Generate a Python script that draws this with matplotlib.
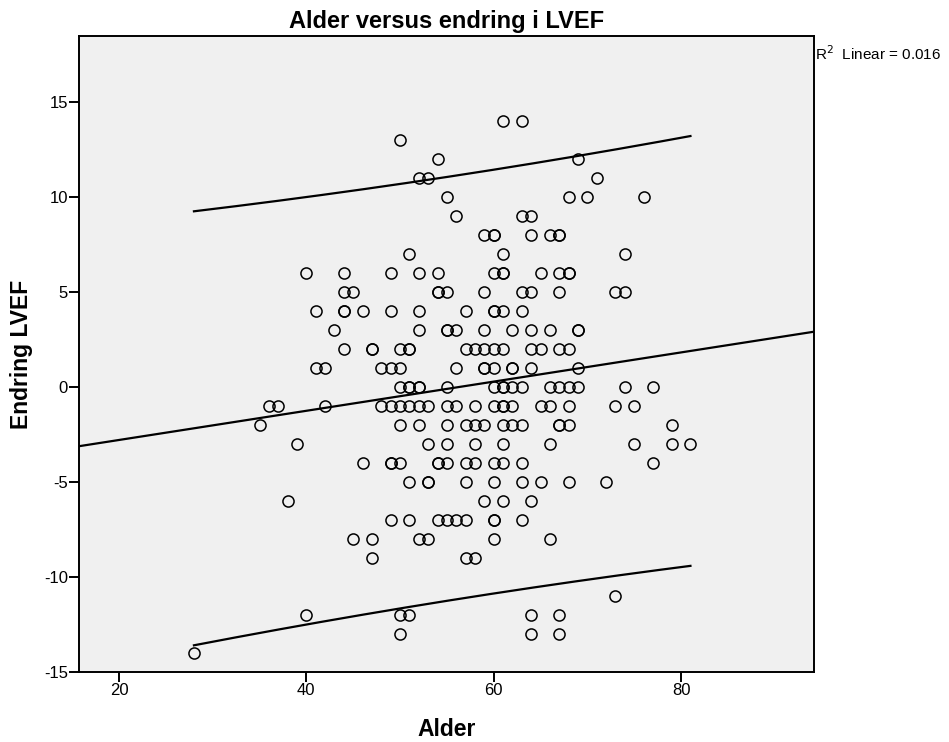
import numpy as np
import matplotlib
matplotlib.use('Agg')
import matplotlib.pyplot as plt

plt.rcParams['font.family'] = ['Liberation Sans', 'DejaVu Sans']
plt.rcParams['axes.unicode_minus'] = False

# Alder (x) for hver endring i LVEF (y), lest av per rad (tykke sirkler = to like punkt)
rows = {
    14: [61, 63],
    13: [50],
    12: [54, 69],
    11: [52, 53, 71],
    10: [55, 68, 70, 76],
    9: [56, 63, 64],
    8: [59, 60, 60, 64, 66, 67, 67],
    7: [51, 61, 74],
    6: [40, 44, 49, 52, 54, 60, 61, 61, 65, 67, 68, 68],
    5: [44, 45, 54, 54, 55, 59, 63, 64, 67, 73, 74],
    4: [41, 44, 44, 46, 49, 52, 57, 60, 60, 61, 63],
    3: [43, 52, 55, 55, 56, 59, 62, 64, 66, 69, 69],
    2: [44, 47, 47, 50, 51, 51, 57, 58, 59, 60, 61, 64, 65, 67, 68],
    1: [41, 42, 48, 49, 50, 56, 59, 59, 60, 62, 62, 64, 69],
    0: [50, 51, 51, 52, 52, 55, 60, 61, 61, 62, 63, 66, 67, 68, 69, 74, 77],
    -1: [36, 37, 42, 48, 49, 50, 51, 52, 53, 55, 56, 58, 60, 61, 61, 62, 65, 66, 68, 73, 75],
    -2: [35, 50, 52, 55, 57, 58, 59, 61, 62, 63, 67, 67, 68, 79],
    -3: [39, 53, 55, 58, 61, 66, 75, 79, 81],
    -4: [46, 49, 49, 50, 54, 54, 55, 57, 58, 60, 61, 63, 77],
    -5: [51, 53, 53, 57, 60, 63, 65, 68, 72],
    -6: [38, 59, 61, 64],
    -7: [49, 51, 54, 55, 56, 57, 60, 60, 63],
    -8: [45, 47, 52, 53, 60, 66],
    -9: [47, 57, 58],
    -11: [73],
    -12: [40, 50, 51, 64, 67],
    -13: [50, 64, 67],
    -14: [28],
}
alder = np.array([a for y, xs in rows.items() for a in xs], dtype=float)
endring = np.array([y for y, xs in rows.items() for a in xs], dtype=float)

# lineær regresjon + 95% prediksjonsintervall
n = len(alder)
b, a = np.polyfit(alder, endring, 1)
pred = a + b * alder
s = np.sqrt(np.sum((endring - pred) ** 2) / (n - 2))
r2 = 1 - np.sum((endring - pred) ** 2) / np.sum((endring - endring.mean()) ** 2)
xbar = alder.mean()
sxx = np.sum((alder - xbar) ** 2)
t = 1.97

fig = plt.figure(figsize=(9.49, 7.42), dpi=100)
ax = fig.add_axes([79 / 949, 1 - 672 / 742, (814 - 79) / 949, (672 - 36) / 742])
ax.set_facecolor('#f0f0f0')

ax.set_xlim(15.73, 94.19)
ax.set_ylim(-15, 18.5)

xl = np.linspace(15.73, 94.19, 100)
ax.plot(xl, a + b * xl, color='black', lw=1.6)
xp = np.linspace(alder.min(), alder.max(), 200)
half = t * s * np.sqrt(1 + 1 / n + (xp - xbar) ** 2 / sxx)
ax.plot(xp, a + b * xp + half, color='black', lw=1.6)
ax.plot(xp, a + b * xp - half, color='black', lw=1.6)

ax.plot(alder, endring, 'o', mfc='none', mec='black', ms=8, mew=1.1)

ax.set_xticks([20, 40, 60, 80])
ax.set_yticks([-15, -10, -5, 0, 5, 10, 15])
ax.tick_params(direction='out', length=7, width=1.4, labelsize=12, pad=1, top=False, right=False)
for sp in ax.spines.values():
    sp.set_linewidth(1.4)

ax.set_title('Alder versus endring i LVEF', fontsize=17, fontweight='bold', pad=6)
ax.set_xlabel('Alder', fontsize=16.5, fontweight='bold', labelpad=14)
ax.set_ylabel('Endring LVEF', fontsize=16.5, fontweight='bold', labelpad=8)

fig.text(815 / 949, 1 - 54 / 742, r'R$^2$  Linear = %.3f' % r2, fontsize=11, va='center', ha='left')

fig.savefig('out.png', dpi=100)
